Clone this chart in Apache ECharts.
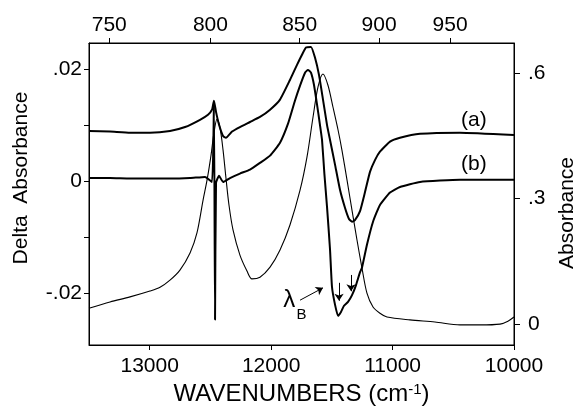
<!DOCTYPE html>
<html><head><meta charset="utf-8">
<script src="https://cdn.jsdelivr.net/npm/echarts@6/dist/echarts.min.js"></script>
<style>html,body{margin:0;padding:0;background:#fff}#c{width:581px;height:406px}</style>
</head><body><div id="c"></div>
<script>
// Absorbance (right axis)
const absWn = [13500,13327,13162,12998,12915,12833,12751,12668,12611,12561,12528,12495,12471,12446,12421,12396,12372,12347,12314,12257,12199,12158,12092,12009,11927,11845,11762,11705,11655,11614,11573,11532,11491,11449,11417,11375,11334,11293,11252,11211,11161,11104,11046,10857,10651,10445,10280,10115,10050,10000];
const absVal = [0.038,0.053,0.065,0.079,0.088,0.105,0.129,0.170,0.218,0.296,0.344,0.404,0.457,0.490,0.469,0.416,0.349,0.284,0.225,0.165,0.127,0.108,0.112,0.136,0.177,0.237,0.320,0.399,0.495,0.567,0.598,0.571,0.519,0.464,0.416,0.344,0.272,0.201,0.134,0.074,0.041,0.026,0.017,0.010,0.005,-0.002,-0.002,0.000,0.007,0.017];
// Delta absorbance (a) (left axis)
const daWn = [13500,13327,13162,12998,12833,12709,12586,12520,12487,12471,12454,12429,12396,12372,12322,12257,12174,12092,12009,11927,11845,11787,11746,11713,11672,11639,11606,11573,11540,11515,11474,11433,11392,11359,11334,11310,11268,11227,11186,11145,11104,11021,10939,10774,10445,10000];
const daVal = [0.0089,0.0088,0.0086,0.0086,0.0089,0.0096,0.0109,0.0118,0.0127,0.0143,0.0123,0.0100,0.0080,0.0077,0.0088,0.0096,0.0105,0.0114,0.0127,0.0145,0.0180,0.0207,0.0225,0.0238,0.0239,0.0220,0.0189,0.0145,0.0100,0.0073,0.0029,-0.0016,-0.0048,-0.0068,-0.0073,-0.0070,-0.0054,-0.0020,0.0016,0.0037,0.0052,0.0070,0.0077,0.0084,0.0086,0.0082];
// Delta absorbance (b) (left axis)
const dbWn = [13500,13327,13162,12998,12833,12668,12545,12487,12471,12462,12454,12429,12396,12339,12257,12174,12092,12009,11927,11861,11804,11762,11721,11697,11672,11647,11622,11598,11581,11561,11540,11515,11499,11474,11449,11425,11400,11367,11334,11301,11268,11252,11211,11161,11104,11021,10939,10774,10445,10000];
const dbVal = [0.0005,0.0005,0.0004,0.0004,0.0004,0.0005,0.0007,-0.0002,0.0141,-0.0248,-0.0004,0.0009,-0.0002,0.0005,0.0013,0.0020,0.0032,0.0045,0.0068,0.0102,0.0143,0.0170,0.0193,0.0198,0.0193,0.0171,0.0136,0.0100,0.0073,0.0011,-0.0046,-0.0123,-0.0189,-0.0221,-0.0241,-0.0234,-0.0223,-0.0216,-0.0204,-0.0186,-0.0163,-0.0155,-0.0114,-0.0073,-0.0043,-0.0021,-0.0011,-0.0002,0.0002,0.0002];

// Tick labels
const bottomTicks = [13000,12000,11000,10000];
const bottomTickLabels = ['13000','12000','11000','10000'];
const topTickNm = [750,800,850,900,950];
const leftTickValues = [-0.02,0,0.02];
const leftTickLabels = ['-.02','0','.02'];
const leftMinorTicks = [-0.02,-0.01,0,0.01,0.02];
const rightTickValues = [0,0.3,0.6];
const rightTickLabels = ['0','.3','.6'];

const FONT = 'Liberation Sans, Arial, Helvetica, sans-serif';
const topTickWn = topTickNm.map(n => 1e7 / n);
const zip = (a, b) => a.map((v, i) => [v, b[i]]);
const pickLabel = (vals, labels) => v => {
  let best = 0;
  vals.forEach((t, i) => { if (Math.abs(t - v) < Math.abs(vals[best] - v)) best = i; });
  return labels[best];
};
const mkLine = () => ({show: true, onZero: false, lineStyle: {color: '#000', width: 1}});
const lbl = () => ({color: '#000', fontFamily: FONT, fontSize: 21});

const chart = echarts.init(document.getElementById('c'), null, {renderer: 'canvas'});
chart.setOption({
  animation: false,
  backgroundColor: '#fff',
  grid: {left: 89, right: 67, top: 43, bottom: 61, containLabel: false, outerBoundsMode: 'none',
         show: true, borderColor: '#000', borderWidth: 1, backgroundColor: 'transparent'},
  xAxis: [
    {type: 'value', position: 'bottom', min: 10000, max: 13500, inverse: true,
     name: 'WAVENUMBERS (cm{sup|-1})', nameLocation: 'middle', nameGap: 36,
     nameTextStyle: {color: '#000', fontFamily: FONT, fontSize: 24,
       rich: {sup: {fontSize: 15, verticalAlign: 'top', padding: [0, 0, 9, 0], fontFamily: FONT, color: '#000'}}},
     axisLine: mkLine(),
     axisTick: {show: true, customValues: bottomTicks, length: 5, lineStyle: {color: '#000'}},
     axisLabel: Object.assign({customValues: bottomTicks, margin: 11, formatter: pickLabel(bottomTicks, bottomTickLabels)}, lbl()),
     splitLine: {show: false}},
    {type: 'value', position: 'top', min: 10000, max: 13500, inverse: true,
     axisLine: mkLine(),
     axisTick: {show: true, customValues: topTickWn, length: 5, lineStyle: {color: '#000'}},
     axisLabel: Object.assign({customValues: topTickWn, margin: 7, formatter: pickLabel(topTickWn, topTickNm)}, lbl()),
     splitLine: {show: false}}
  ],
  yAxis: [
    {type: 'value', position: 'left', min: -0.0293, max: 0.0246,
     name: 'Delta  Absorbance', nameLocation: 'middle', nameRotate: 90, nameGap: 57,
     nameTextStyle: {color: '#000', fontFamily: FONT, fontSize: 21, padding: [0, 0, 0, 32]},
     axisLine: mkLine(),
     axisTick: {show: true, customValues: leftMinorTicks, length: 5, lineStyle: {color: '#000'}},
     axisLabel: Object.assign({customValues: leftTickValues, margin: 7, formatter: pickLabel(leftTickValues, leftTickLabels)}, lbl()),
     splitLine: {show: false}},
    {type: 'value', position: 'right', min: -0.05, max: 0.672,
     name: 'Absorbance', nameLocation: 'middle', nameRotate: 90, nameGap: 41,
     nameTextStyle: {color: '#000', fontFamily: FONT, fontSize: 21, padding: [0, 38, 0, 0]},
     axisLine: mkLine(),
     axisTick: {show: true, customValues: rightTickValues, length: 6, lineStyle: {color: '#000'}},
     axisLabel: Object.assign({customValues: rightTickValues, margin: 14, formatter: pickLabel(rightTickValues, rightTickLabels)}, lbl()),
     splitLine: {show: false}}
  ],
  series: [
    {name: 'Absorbance', type: 'line', xAxisIndex: 0, yAxisIndex: 1, data: zip(absWn, absVal),
     showSymbol: false, smooth: 0.3, lineStyle: {color: '#000', width: 1.1}},
    {name: '(a)', type: 'line', xAxisIndex: 0, yAxisIndex: 0, data: zip(daWn, daVal),
     showSymbol: false, smooth: 0.15, lineStyle: {color: '#000', width: 2},
     markPoint: {symbol: 'circle', symbolSize: 0.1, itemStyle: {color: 'rgba(0,0,0,0)'},
       label: {show: true, color: '#000', fontFamily: FONT, fontSize: 21},
       data: [{coord: [10330, 0.0109], label: {formatter: '(a)'}}]}},
    {name: '(b)', type: 'line', xAxisIndex: 0, yAxisIndex: 0, data: zip(dbWn, dbVal),
     showSymbol: false, smooth: 0.15, lineStyle: {color: '#000', width: 2},
     markPoint: {symbol: 'circle', symbolSize: 0.1, itemStyle: {color: 'rgba(0,0,0,0)'},
       label: {show: true, color: '#000', fontFamily: FONT, fontSize: 21},
       data: [
         {coord: [10330, 0.0029], label: {formatter: '(b)'}},
         {coord: [11850, -0.0214], label: {formatter: 'λ', fontSize: 24}},
         {coord: [11750, -0.0240], label: {formatter: 'B', fontSize: 15}}
       ]},
     markLine: {silent: true, symbol: ['none', 'arrow'], symbolSize: 7,
       lineStyle: {color: '#000', width: 1, type: 'solid'}, label: {show: false},
       data: [
         [{coord: [11441, -0.0182]}, {coord: [11441, -0.0214]}],
         [{coord: [11342, -0.0168]}, {coord: [11342, -0.0197]}],
         [{coord: [11762, -0.0213]}, {coord: [11573, -0.0191]}]
       ]}}
  ]
});
</script></body></html>
